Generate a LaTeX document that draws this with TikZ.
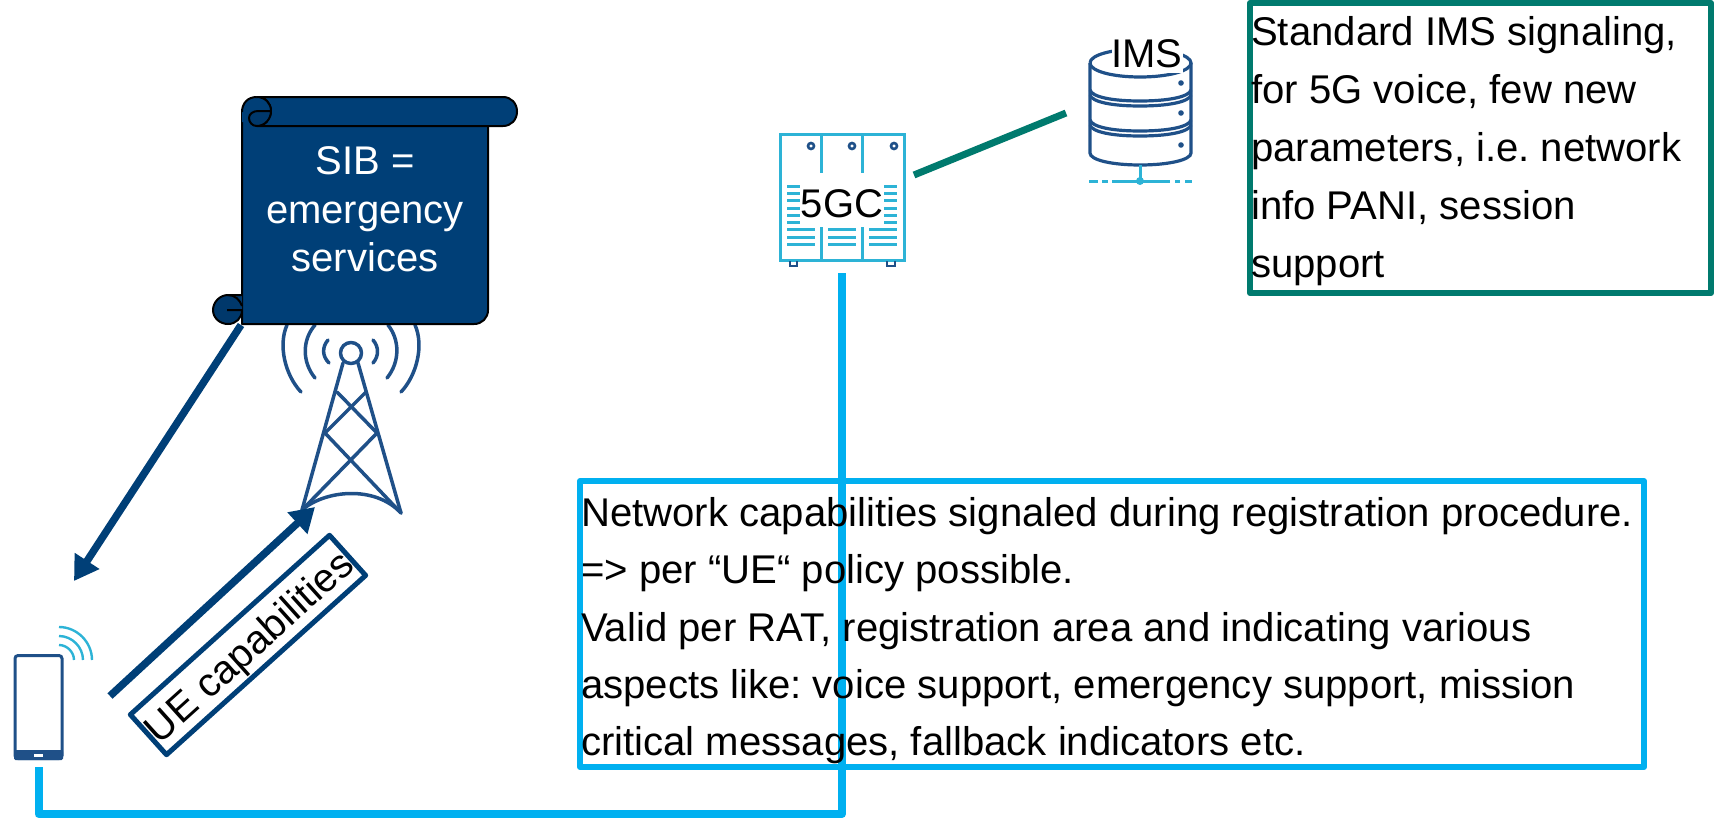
\documentclass[tikz,border=0pt]{standalone}
\usepackage{fontspec}
\setmainfont{Liberation Sans}
\usetikzlibrary{arrows.meta}
\definecolor{navy}{HTML}{003F77}
\definecolor{navydark}{HTML}{00386B}
\definecolor{sky}{HTML}{00B0F0}
\definecolor{tealbox}{HTML}{007A6E}
\definecolor{iconblue}{HTML}{1F5088}
\definecolor{iconcyan}{HTML}{2DB3D6}
\tikzset{
 x=1pt,y=-1pt,
 boxtext/.style={font=\frenchspacing\fontsize{40.1}{58}\selectfont,align=left,anchor=north west,inner sep=0pt,text=black},
 label5/.style={font=\fontsize{40}{48}\selectfont,inner sep=0pt,text=black},
 framebox/.style={line width=6pt,line join=round},
 wire/.style={line width=8pt,line join=round,draw=sky},
 towerline/.style={draw=iconblue,line width=3.5pt,line cap=round,line join=round},
 srv/.style={draw=iconcyan,line width=3pt},
 dbs/.style={draw=iconblue,line width=3.2pt},
 bigarrow/.style={line width=7.5pt,draw=navy,-{Triangle[length=24pt,width=28pt,fill=navy]}},
 scrollline/.style={draw=black,line width=2pt,line join=round},
}
\begin{document}
\begin{tikzpicture}
\useasboundingbox (0,0) rectangle (1715,819);
% --- tower icon
\coordinate (towerfoot) at (315,507);
\begin{scope}[towerline]
\draw (351,353) circle (10.5);
\draw (343,363) -- (302,510);
\draw (358,363) -- (401,513);
\draw (337,392) -- (377,433) -- (302,510);
\draw (366,392) -- (325,433) -- (401,513);
\draw (302,510) .. controls (325,490) and (375,485) .. (401,513);
\draw (287,325) .. controls (278,345) and (285,375) .. (301,392);
\draw (415,325) .. controls (424,345) and (417,375) .. (401,392);
\draw (315,325) .. controls (302,340) and (302,362) .. (315,378);
\draw (388,325) .. controls (400,340) and (400,362) .. (387,378);
\draw (328,340) .. controls (322,347) and (322,356) .. (329,363);
\draw (373,340) .. controls (379,347) and (379,356) .. (373,363);
\end{scope}
% --- scroll
\coordinate (scrollfoot) at (241,325);
\fill[navy,scrollline] (242,112) -- (242,324) -- (474,324) .. controls (482,324) and (488,318) .. (488,310) -- (488,120) -- (256,120) -- cycle;
\fill[navy,scrollline] (256.7,97) -- (503,97) .. controls (511,97) and (517,103) .. (517,111.5) .. controls (517,120) and (511,126) .. (503,126) -- (256.7,126) .. controls (265,126) and (271,119) .. (271,111) .. controls (271,103) and (265,97) .. (256.7,97) -- cycle;
% top curl
\fill[navy] (242,112) .. controls (242,103) and (248,97) .. (256.7,97) .. controls (265,97) and (271,103) .. (271,111) -- (271,122) -- (242,122) -- cycle;
\draw[scrollline] (242,112) .. controls (242,103) and (248,97) .. (256.7,97);
\fill[navydark] (258,111) -- (271,111) .. controls (271,119) and (265,126) .. (256.7,126) .. controls (252,126) and (249,122) .. (249,118) .. controls (249,114) and (253,111) .. (258,111) -- cycle;
\draw[scrollline] (256.7,97) .. controls (265,97) and (271,103) .. (271,111) .. controls (271,119) and (265,126) .. (256.7,126) .. controls (252,126) and (249,122) .. (249,118) .. controls (249,114) and (253,111) .. (258,111) -- (271,111);
% bottom curl
\fill[navydark] (242,295) -- (228,295) .. controls (220,295) and (213,302) .. (213,310) .. controls (213,318) and (220,324) .. (228,324) .. controls (236,324) and (242,318) .. (242,310) -- cycle;
\draw[scrollline] (242,295) -- (228,295) .. controls (220,295) and (213,302) .. (213,310) .. controls (213,318) and (220,324) .. (228,324) .. controls (236,324) and (242,318) .. (242,310) -- (227,310);
\draw[scrollline] (228,295) .. controls (235,295) and (240,300) .. (242,306);
\node[font=\fontsize{40}{48.5}\selectfont,align=center,text=white,inner sep=0pt,anchor=north] (sib) at (365,146.5) {SIB =\\emergency\\services};
% --- phone
\node[draw=iconblue,line width=3pt,rounded corners=3pt,minimum width=47pt,minimum height=103pt,inner sep=0pt] (ue) at (38.5,707) {};
\fill[iconblue,rounded corners=1.5pt] (14,750) rectangle (63,760);
\fill[white] (34,753.5) rectangle (43,757);
\begin{scope}[draw=iconcyan,line width=2.4pt]
\draw (59,627) .. controls (77,627) and (92,642) .. (92,660);
\draw (59,636) .. controls (72,636) and (83,647) .. (83,660);
\draw (59,645) .. controls (67,645) and (74,652) .. (74,660);
\end{scope}
% --- 5GC server
\begin{scope}[srv]
\draw (780,134) rectangle (904,260);
\draw (821,134) -- (821,260);
\draw (862,134) -- (862,260);
\foreach \yy in {186,193,200,208,215,222} {
 \draw (787,\yy) -- (800,\yy);
 \draw (884,\yy) -- (897,\yy);
}
\foreach \yy in {229,237,244} {
 \draw (787,\yy) -- (815,\yy);
 \draw (828,\yy) -- (856,\yy);
 \draw (869,\yy) -- (897,\yy);
}
\end{scope}
\begin{scope}[draw=iconblue,line width=2.6pt]
\foreach \xx in {811,852,894} \draw (\xx,146) circle (3);
\draw (790,261) -- (790,266) -- (797,266) -- (797,261);
\draw (887,261) -- (887,266) -- (895,266) -- (895,261);
\end{scope}
\fill[white] (800.5,173) rectangle (883.5,227);
\node[label5,anchor=base] (core) at (842,217) {5GC};
% --- IMS database
\begin{scope}[dbs]
\draw (1090,63) .. controls (1090,55) and (1112,49) .. (1140,49) .. controls (1168,49) and (1191,55) .. (1191,63) .. controls (1191,71) and (1168,77) .. (1140,77) .. controls (1112,77) and (1090,71) .. (1090,63);
\draw (1090,63) -- (1090,153) .. controls (1090,160) and (1112,165) .. (1140,165) .. controls (1168,165) and (1191,160) .. (1191,153) -- (1191,63);
\draw (1090,90) .. controls (1092,97) and (1112,101) .. (1140,101) .. controls (1168,101) and (1189,97) .. (1191,90);
\draw (1090,95) .. controls (1092,102) and (1112,106) .. (1140,106) .. controls (1168,106) and (1189,102) .. (1191,95);
\draw (1090,120) .. controls (1092,127) and (1112,131) .. (1140,131) .. controls (1168,131) and (1189,127) .. (1191,120);
\draw (1090,125) .. controls (1092,132) and (1112,136) .. (1140,136) .. controls (1168,136) and (1189,132) .. (1191,125);
\end{scope}
\fill[iconblue] (1181,83) circle (2.8) (1181,113) circle (2.8) (1181,145) circle (2.8);
\begin{scope}[draw=iconcyan,line width=3pt]
\draw (1140,165) -- (1140,181);
\draw (1089,181) -- (1098,181) (1102,181) -- (1108,181) (1112,181) -- (1170,181) (1175,181) -- (1180,181) (1185,181) -- (1192,181);
\end{scope}
\fill[iconcyan] (1140,181) circle (4);
\fill[white] (1112,33) rectangle (1183,73);
\node[label5,anchor=base] (ims) at (1147,67) {IMS};
% --- connectors
\coordinate (coreport) at (842,273);
\coordinate (ueport) at (38.5,767);
\draw[wire] (coreport) -- (842,814) -- (38.5,814) -- (ueport);
\coordinate (corelink) at (914,175);
\coordinate (imslink) at (1066,113);
\draw[line width=7pt,draw=tealbox] (corelink) -- (imslink);
\draw[bigarrow] (scrollfoot) -- (74,581);
\coordinate (uetail) at (110,696);
\draw[bigarrow] (uetail) -- (towerfoot);
% --- text boxes
\node[draw=sky,framebox,minimum width=1064pt,minimum height=286pt,inner sep=0pt,anchor=north west,outer sep=0pt] (netbox) at (580,481) {};
\node[boxtext,font=\frenchspacing\fontsize{40.1}{57.4}\selectfont] (nettext) at (581,497) {Network capabilities signaled during registration procedure.\\=> per “UE“ policy possible.\\Valid per RAT, registration area and indicating various\\aspects like: voice support, emergency support, mission\\critical messages, fallback indicators etc.};
\node[draw=tealbox,framebox,minimum width=461pt,minimum height=290pt,inner sep=0pt,anchor=north west,outer sep=0pt] (imsbox) at (1250,3) {};
\node[boxtext] (imstext) at (1251,16) {Standard IMS signaling,\\for 5G voice, few new\\parameters, i.e. network\\info PANI, session\\support};
\node[draw=navy,line width=5pt,line join=round,minimum width=268pt,minimum height=54pt,inner sep=0pt,rotate=42] (capbox) at (248,645) {};
\node[label5,rotate=42] (captext) at (251,649) {UE capabilities};
\end{tikzpicture}
\end{document}
